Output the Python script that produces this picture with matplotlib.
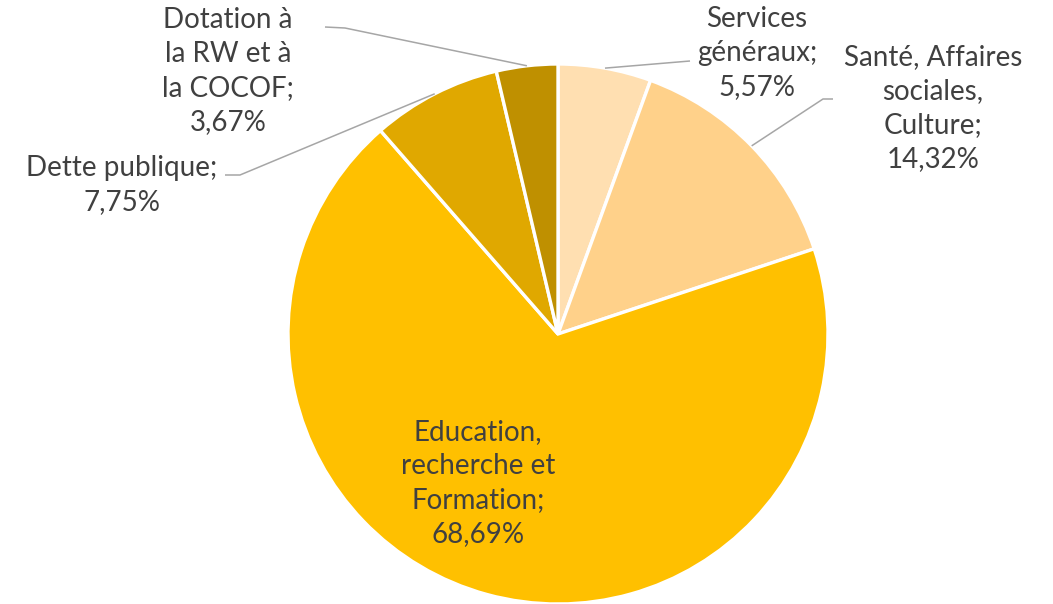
import numpy as np
import matplotlib
matplotlib.use("Agg")
import matplotlib.pyplot as plt

categories = ["Services\ngénéraux", "Santé, Affaires\nsociales,\nCulture",
              "Education,\nrecherche et\nFormation", "Dette publique",
              "Dotation à\nla RW et à\nla COCOF"]
values = [5.57, 14.32, 68.69, 7.75, 3.67]
colors = ["#FFDFB1", "#FFD18A", "#FFC000", "#E0A800", "#BF9000"]

W, H = 1053, 604
fig = plt.figure(figsize=(W / 100, H / 100), dpi=100)
ax = fig.add_axes([0, 0, 1, 1])

cx, cy, r = 558, H - 334, 270
wedges, _ = ax.pie(values, colors=colors, startangle=90, counterclock=False,
                   center=(cx, cy), radius=r, frame=True,
                   wedgeprops=dict(edgecolor="white", linewidth=2.4))
ax.set_xlim(0, W)
ax.set_ylim(0, H)
ax.set_aspect("equal")
ax.axis("off")

font = dict(family="Lato", fontsize=20, color="#404040", ha="center",
            va="center", linespacing=1.38)

def lab(i):
    return f"{categories[i]};\n{values[i]:.2f}%".replace(".", ",")

# label centres (layout, pixel coords from top) and leader line elbows
label_pos = [(757, 53), (933, 108), (478, 483), (122, 185), (228, 71)]
leader_ends = [[(690, 61)], [(823, 99), (833, 99)], None,
               [(240, 175), (225, 175)], [(345, 28), (325, 27)]]

for i, w in enumerate(wedges):
    lx, ly = label_pos[i]
    ax.text(lx, H - ly, lab(i), **font)
    if leader_ends[i] is None:
        continue
    ang = np.deg2rad((w.theta1 + w.theta2) / 2)
    ax0, ay0 = cx + r * np.cos(ang), cy + r * np.sin(ang)
    xs = [ax0] + [p[0] for p in leader_ends[i]]
    ys = [ay0] + [H - p[1] for p in leader_ends[i]]
    ax.plot(xs, ys, color="#A6A6A6", lw=1.1, solid_capstyle="butt")

fig.savefig("out.png", dpi=100)
